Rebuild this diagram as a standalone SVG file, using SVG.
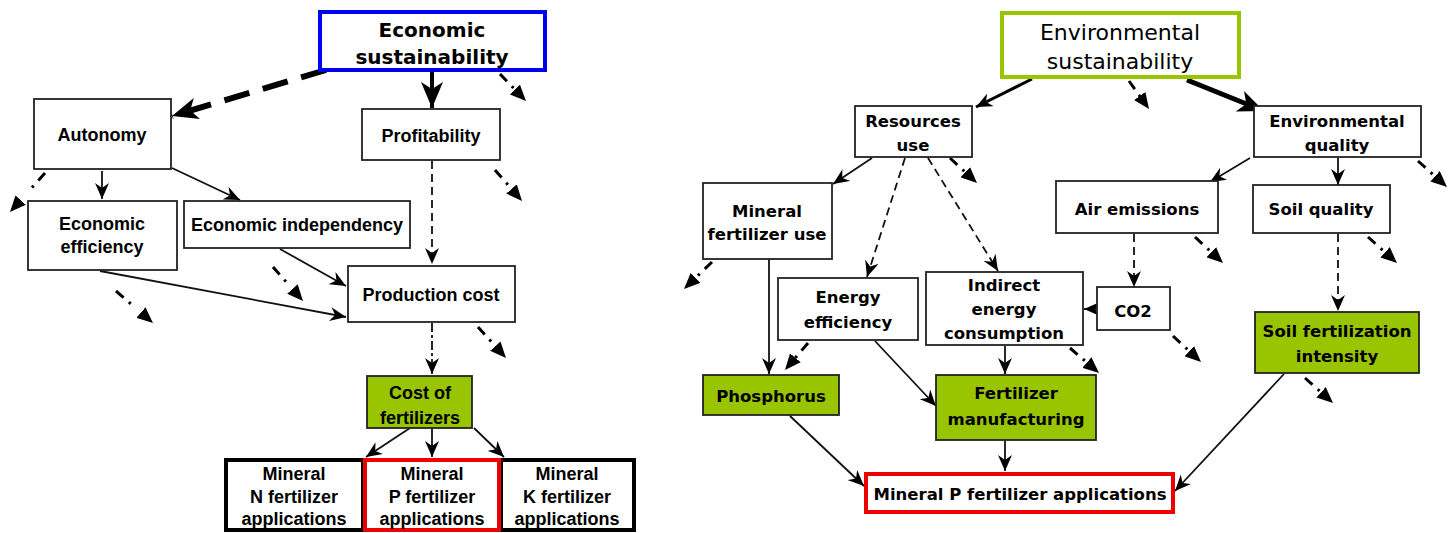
<svg xmlns="http://www.w3.org/2000/svg" width="1450" height="533" viewBox="0 0 1450 533">
<style>
.box{fill:#fff;stroke:#222;stroke-width:1.8}
.green{fill:#99c400;stroke:#222;stroke-width:1.8}
.lbl{font-family:"Liberation Sans",Arial,sans-serif;font-weight:bold;font-size:18px;text-anchor:middle;fill:#000}
.rl{font-family:"DejaVu Sans",Verdana,sans-serif;font-weight:bold;font-size:16.5px;text-anchor:middle;fill:#000}
.c{fill:none;stroke:#111;stroke-width:1.8}
.dash{stroke-dasharray:8,5}
.dd{fill:none;stroke:#000;stroke-width:3;stroke-dasharray:10,7,2.5,40}
</style>
<defs>
<marker id="a" markerUnits="userSpaceOnUse" markerWidth="16" markerHeight="14" refX="16" refY="7" orient="auto" viewBox="0 0 16 14"><path d="M0,0 L16,7 L0,14 L5,7 Z" fill="#000"/></marker>
<marker id="ab" markerUnits="userSpaceOnUse" markerWidth="26" markerHeight="22" refX="26" refY="11" orient="auto" viewBox="0 0 26 22"><path d="M0,0 L26,11 L0,22 L7,11 Z" fill="#000"/></marker>
<marker id="t" markerUnits="userSpaceOnUse" markerWidth="16" markerHeight="14" refX="16" refY="7" orient="auto" viewBox="0 0 16 14"><path d="M0,0 L16,7 L0,14 Z" fill="#000"/></marker>
</defs>

<g id="connectors">
<!-- left -->
<path d="M326,70 L172,116" fill="none" stroke="#000" stroke-width="6" stroke-dasharray="26,14" marker-end="url(#ab)"/>
<path d="M432,72 L432,108" fill="none" stroke="#000" stroke-width="4" marker-end="url(#ab)"/>
<path class="c" d="M102,171 L102,199" marker-end="url(#a)"/>
<path class="c" d="M172,168 L240,200" marker-end="url(#a)"/>
<path class="c dash" d="M432,161 L432,264" marker-end="url(#a)"/>
<path class="c" d="M280,249 L346,286" marker-end="url(#a)"/>
<path class="c" d="M100,271 L346,317" marker-end="url(#a)"/>
<path class="c" d="M432,323 L432,374" stroke-dasharray="9,3,3,3" marker-end="url(#a)"/>
<path class="c" d="M410,428 L366,457" marker-end="url(#a)"/>
<path class="c" d="M432,428 L432,457" marker-end="url(#a)"/>
<path class="c" d="M474,428 L504,457" marker-end="url(#a)"/>
<path class="dd" d="M500,74 L526,101" marker-end="url(#t)"/>
<path class="dd" d="M45,173 L10,212" marker-end="url(#t)"/>
<path class="dd" d="M495,170 L522,201" marker-end="url(#t)"/>
<path class="dd" d="M116,291 L153,323" marker-end="url(#t)"/>
<path class="dd" d="M273,267 L303,301" marker-end="url(#t)"/>
<path class="dd" d="M478,327 L506,358" marker-end="url(#t)"/>
<!-- right -->
<path d="M1032,79 L976,107" fill="none" stroke="#000" stroke-width="3" marker-end="url(#a)"/>
<path d="M1187,80 L1264,111" fill="none" stroke="#000" stroke-width="5" marker-end="url(#ab)"/>
<path class="c" d="M872,158 L833,184" marker-end="url(#a)"/>
<path class="c dash" d="M905,158 L867,277" marker-end="url(#a)"/>
<path class="c dash" d="M928,158 L998,271" marker-end="url(#a)"/>
<path class="c" d="M1250,158 L1210,182" marker-end="url(#a)"/>
<path class="c" d="M1338,158 L1338,185" marker-end="url(#a)"/>
<path class="c" d="M769,259 L769,374" marker-end="url(#a)"/>
<path class="c dash" d="M1134,234 L1134,287" marker-end="url(#a)"/>
<path class="c dash" d="M1338,234 L1338,311" marker-end="url(#a)"/>
<path class="c" d="M1097,309 L1084,309" marker-end="url(#a)"/>
<path class="c" d="M875,341 L936,406" marker-end="url(#a)"/>
<path class="c" d="M1005,346 L1005,374" marker-end="url(#a)"/>
<path class="c" d="M790,416 L864,486" marker-end="url(#a)"/>
<path class="c" d="M1005,441 L1005,471" marker-end="url(#a)"/>
<path class="c" d="M1284,374 L1175,491" marker-end="url(#a)"/>
<path class="dd" d="M1129,81 L1149,109" marker-end="url(#t)"/>
<path class="dd" d="M950,158 L977,183" marker-end="url(#t)"/>
<path class="dd" d="M1418,161 L1447,187" marker-end="url(#t)"/>
<path class="dd" d="M712,262 L684,289" marker-end="url(#t)"/>
<path class="dd" d="M1195,237 L1223,263" marker-end="url(#t)"/>
<path class="dd" d="M1368,237 L1397,263" marker-end="url(#t)"/>
<path class="dd" d="M808,343 L785,370" marker-end="url(#t)"/>
<path class="dd" d="M1070,348 L1099,373" marker-end="url(#t)"/>
<path class="dd" d="M1173,336 L1201,362" marker-end="url(#t)"/>
<path class="dd" d="M1305,378 L1333,403" marker-end="url(#t)"/>
</g>

<g id="econ-sust"><rect x="320" y="12" width="225" height="58" fill="#fff" stroke="#0000ee" stroke-width="4"/>
<text x="432" y="37" font-family="DejaVu Sans,sans-serif" font-weight="bold" font-size="20" text-anchor="middle">Economic</text>
<text x="432" y="64" font-family="DejaVu Sans,sans-serif" font-weight="bold" font-size="20" text-anchor="middle">sustainability</text></g>
<g id="autonomy"><rect class="box" x="34" y="99" width="137" height="70"/><text class="lbl" x="102" y="141">Autonomy</text></g>
<g id="profitability"><rect class="box" x="362" y="109" width="138" height="51"/><text class="lbl" x="431" y="142">Profitability</text></g>
<g id="econ-eff"><rect class="box" x="28" y="201" width="149" height="69"/><text class="lbl" x="102" y="230">Economic</text><text class="lbl" x="102" y="253">efficiency</text></g>
<g id="econ-indep"><rect class="box" x="184" y="201" width="226" height="47"/><text class="lbl" x="297" y="231">Economic independency</text></g>
<g id="prod-cost"><rect class="box" x="348" y="266" width="167" height="56"/><text class="lbl" x="431" y="301">Production cost</text></g>
<g id="cost-fert"><rect class="green" x="367" y="376" width="105" height="52"/><text class="lbl" x="420" y="399">Cost of</text><text class="lbl" x="420" y="424">fertilizers</text></g>
<g id="min-n"><rect x="226" y="460" width="137" height="70" fill="#fff" stroke="#000" stroke-width="4"/><text class="lbl" x="294" y="480">Mineral</text><text class="lbl" x="294" y="503">N fertilizer</text><text class="lbl" x="294" y="525">applications</text></g>
<g id="min-k"><rect x="501" y="460" width="133" height="70" fill="#fff" stroke="#000" stroke-width="4"/><text class="lbl" x="567" y="480">Mineral</text><text class="lbl" x="567" y="503">K fertilizer</text><text class="lbl" x="567" y="525">applications</text></g>
<g id="min-p"><rect x="365" y="460" width="134" height="70" fill="#fff" stroke="#ee0000" stroke-width="4"/><text class="lbl" x="432" y="480">Mineral</text><text class="lbl" x="432" y="503">P fertilizer</text><text class="lbl" x="432" y="525">applications</text></g>

<g id="env-sust"><rect x="1002" y="13" width="237" height="64" fill="#fff" stroke="#99c400" stroke-width="4"/>
<text x="1120" y="40" font-family="DejaVu Sans,sans-serif" font-size="22" text-anchor="middle">Environmental</text>
<text x="1120" y="69" font-family="DejaVu Sans,sans-serif" font-size="22" text-anchor="middle">sustainability</text></g>
<g id="res-use"><rect class="box" x="855" y="106" width="117" height="51"/><text class="rl" x="913" y="127">Resources</text><text class="rl" x="913" y="151">use</text></g>
<g id="env-qual"><rect class="box" x="1254" y="106" width="167" height="51"/><text class="rl" x="1337" y="127">Environmental</text><text class="rl" x="1337" y="151">quality</text></g>
<g id="min-fert-use"><rect class="box" x="703" y="183" width="129" height="76"/><text class="rl" x="767" y="217">Mineral</text><text class="rl" x="767" y="240">fertilizer use</text></g>
<g id="air"><rect class="box" x="1056" y="181" width="162" height="52"/><text class="rl" x="1137" y="215">Air emissions</text></g>
<g id="soil-q"><rect class="box" x="1253" y="185" width="137" height="48"/><text class="rl" x="1321" y="215">Soil quality</text></g>
<g id="energy-eff"><rect class="box" x="778" y="278" width="140" height="62"/><text class="rl" x="848" y="303">Energy</text><text class="rl" x="848" y="328">efficiency</text></g>
<g id="indirect"><rect class="box" x="926" y="272" width="157" height="73"/><text class="rl" x="1004" y="291">Indirect</text><text class="rl" x="1004" y="315">energy</text><text class="rl" x="1004" y="339">consumption</text></g>
<g id="co2"><rect class="box" x="1097" y="287" width="73" height="43"/><text class="rl" x="1133" y="317">CO2</text></g>
<g id="soil-fert"><rect class="green" x="1255" y="312" width="164" height="61"/><text class="rl" x="1337" y="337">Soil fertilization</text><text class="rl" x="1337" y="362">intensity</text></g>
<g id="phosphorus"><rect class="green" x="703" y="375" width="136" height="40"/><text class="rl" x="771" y="402">Phosphorus</text></g>
<g id="fert-manuf"><rect class="green" x="936" y="375" width="160" height="65"/><text class="rl" x="1016" y="399">Fertilizer</text><text class="rl" x="1016" y="425">manufacturing</text></g>
<g id="min-p-app"><rect x="866" y="474" width="307" height="38" fill="#fff" stroke="#ee0000" stroke-width="4"/><text class="rl" x="1020" y="500">Mineral P fertilizer applications</text></g>
</svg>
